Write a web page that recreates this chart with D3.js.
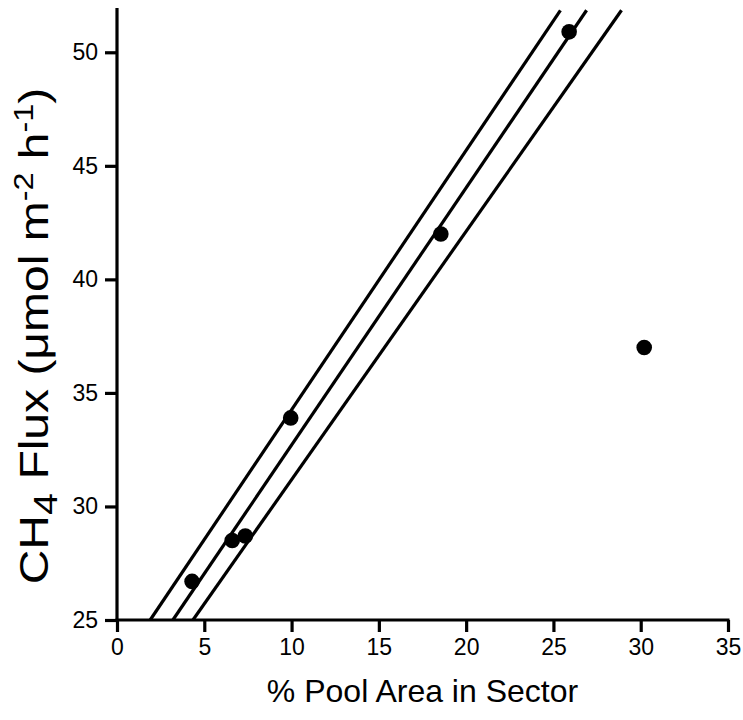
<!DOCTYPE html>
<html>
<head>
<meta charset="utf-8">
<script src="https://cdn.jsdelivr.net/npm/d3@7"></script>
<style>
  body { margin: 0; background: #fff; }
  svg { font-family: "Liberation Sans", Arial, sans-serif; }
</style>
</head>
<body>
<svg width="743" height="720"></svg>
<script>
// data
const poolArea = [4.3, 6.6, 7.35, 9.95, 18.55, 25.9, 30.2];
const ch4Flux = [26.7, 28.5, 28.7, 33.9, 42.0, 50.9, 37.0];

// regression line and its two bands, as [x, y] end points
const upperBand = [[1.9, 25], [25.4, 51.85]];
const fitLine = [[3.2, 25], [26.9, 51.85]];
const lowerBand = [[4.35, 25], [28.9, 51.85]];

const xTicks = [0, 5, 10, 15, 20, 25, 30, 35];
const yTicks = [25, 30, 35, 40, 45, 50];

const svg = d3.select('svg');
const margin = { top: 8, right: 15, bottom: 100, left: 117 };
const width = 743, height = 720;

const xScale = d3.scaleLinear()
  .domain([0, 35])
  .range([margin.left, width - margin.right]);
const yScale = d3.scaleLinear()
  .domain([25, 51.95])
  .range([height - margin.bottom, margin.top]);

const g = svg.append('g');

// lines
const line = d3.line()
  .x(d => xScale(d[0]))
  .y(d => yScale(d[1]));

g.selectAll('.fit').data([upperBand, fitLine, lowerBand])
  .enter().append('path')
    .attr('class', 'fit')
    .attr('d', line)
    .attr('fill', 'none')
    .attr('stroke', '#000')
    .attr('stroke-width', 3.2);

// points
g.selectAll('circle').data(poolArea)
  .enter().append('circle')
    .attr('cx', d => xScale(d))
    .attr('cy', (d, i) => yScale(ch4Flux[i]))
    .attr('r', 7.8)
    .attr('fill', '#000');

// axes
const xAxis = d3.axisBottom(xScale)
  .tickValues(xTicks)
  .tickSize(12)
  .tickPadding(7);
const yAxis = d3.axisLeft(yScale)
  .tickValues(yTicks)
  .tickSize(12)
  .tickPadding(7);

const xAxisG = g.append('g')
  .attr('transform', `translate(0,${yScale(25)})`)
  .call(xAxis);
const yAxisG = g.append('g')
  .attr('transform', `translate(${xScale(0)},0)`)
  .call(yAxis);

[xAxisG, yAxisG].forEach(a => {
  a.select('.domain').remove();
  a.selectAll('.tick line').attr('stroke-width', 3.2);
  a.selectAll('.tick text')
    .attr('font-size', 23)
    .attr('font-family', '"Liberation Sans", Arial, sans-serif')
    .attr('fill', '#000');
});
// straight domain lines without end caps
g.append('line')
  .attr('x1', xScale(0) - 1.5).attr('x2', xScale(35) + 1.5)
  .attr('y1', yScale(25)).attr('y2', yScale(25))
  .attr('stroke', '#000').attr('stroke-width', 3.2);
g.append('line')
  .attr('x1', xScale(0)).attr('x2', xScale(0))
  .attr('y1', yScale(25) + 1.5).attr('y2', yScale(51.95))
  .attr('stroke', '#000').attr('stroke-width', 3.2);

// axis titles
svg.append('text')
  .attr('x', (xScale(0) + xScale(35)) / 2)
  .attr('y', 702)
  .attr('text-anchor', 'middle')
  .attr('font-size', 32)
  .text('% Pool Area in Sector');

// the scanned label is stretched along its length
const yTitle = svg.append('text')
  .attr('transform', `translate(48,336) rotate(-90) scale(1.2,1)`)
  .attr('text-anchor', 'middle')
  .attr('font-size', 40);
yTitle.append('tspan').text('CH');
yTitle.append('tspan').attr('dy', 9).attr('font-size', 33).text('4');
yTitle.append('tspan').attr('dy', -9).text(' Flux (\u03bcmol m');
yTitle.append('tspan').attr('dy', -15).attr('font-size', 27).text('-2');
yTitle.append('tspan').attr('dy', 15).text(' h');
yTitle.append('tspan').attr('dy', -15).attr('font-size', 27).text('-1');
yTitle.append('tspan').attr('dy', 15).text(')');
</script>
</body>
</html>
